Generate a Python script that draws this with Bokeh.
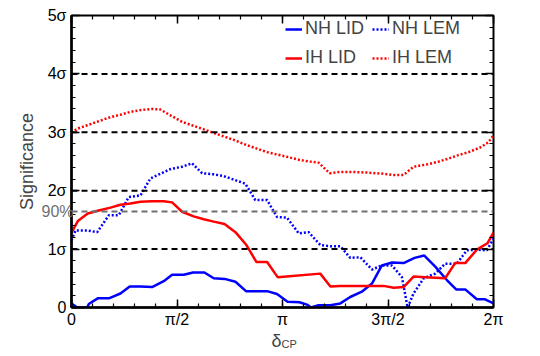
from bokeh.plotting import figure
from bokeh.models import Range1d, LinearAxis, FixedTicker, Span, Label, Legend, LegendItem
from bokeh.embed import file_html
from bokeh.resources import INLINE

# x values are in units of pi
nh_lid_x = [0, 0.027, 0.074, 0.082, 0.126, 0.18, 0.232, 0.276, 0.327, 0.382, 0.437, 0.477, 0.532, 0.576,
            0.63, 0.674, 0.726, 0.777, 0.827, 0.879, 0.927, 0.974, 1.024, 1.08, 1.116, 1.135, 1.171, 1.227,
            1.274, 1.321, 1.376, 1.424, 1.471, 1.519, 1.574, 1.626, 1.672, 1.724, 1.779, 1.823, 1.866, 1.921,
            1.96, 2.0]
nh_lid_y = [0.07, 0.0, 0.0, 0.06, 0.16, 0.16, 0.24, 0.36, 0.36, 0.35, 0.45, 0.56, 0.56, 0.6,
            0.6, 0.5, 0.49, 0.44, 0.28, 0.28, 0.28, 0.23, 0.1, 0.09, 0.05, 0.0, 0.04, 0.04,
            0.07, 0.18, 0.27, 0.41, 0.72, 0.77, 0.76, 0.85, 0.89, 0.7, 0.47, 0.31, 0.31, 0.14,
            0.14, 0.07]

nh_lem_x = [0, 0.019, 0.074, 0.122, 0.177, 0.224, 0.271, 0.327, 0.374, 0.421, 0.469, 0.524, 0.571, 0.619,
            0.674, 0.721, 0.777, 0.824, 0.871, 0.927, 0.974, 1.021, 1.077, 1.124, 1.179, 1.227, 1.274,
            1.321, 1.369, 1.424, 1.471, 1.519, 1.566, 1.593, 1.621, 1.669, 1.724, 1.771, 1.826, 1.874,
            1.921, 1.968, 2.0]
nh_lem_y = [1.15, 1.32, 1.32, 1.29, 1.58, 1.58, 1.89, 1.92, 2.21, 2.29, 2.37, 2.41, 2.47, 2.30,
            2.28, 2.25, 2.18, 2.12, 1.84, 1.84, 1.55, 1.54, 1.27, 1.29, 1.07, 1.05, 1.05,
            0.85, 0.86, 0.65, 0.72, 0.72, 0.52, 0.0, 0.24, 0.50, 0.58, 0.75, 0.75, 0.98,
            0.99, 0.98, 1.18]

ih_lid_x = [0, 0.03, 0.077, 0.129, 0.185, 0.232, 0.279, 0.327, 0.382, 0.437, 0.477, 0.524, 0.579, 0.627,
            0.674, 0.725, 0.777, 0.829, 0.876, 0.927, 0.977, 1.179, 1.227, 1.274, 1.479, 1.527, 1.574,
            1.621, 1.676, 1.724, 1.771, 1.818, 1.866, 1.921, 1.971, 2.0]
ih_lid_y = [1.28, 1.48, 1.61, 1.66, 1.71, 1.76, 1.78, 1.81, 1.82, 1.82, 1.80, 1.64, 1.56, 1.51,
            1.47, 1.43, 1.29, 1.07, 0.78, 0.78, 0.52, 0.58, 0.36, 0.37, 0.37, 0.34, 0.35,
            0.53, 0.52, 0.51, 0.50, 0.76, 0.76, 0.99, 1.10, 1.28]

ih_lem_x = [0, 0.027, 0.074, 0.129, 0.185, 0.232, 0.279, 0.327, 0.382, 0.421, 0.469, 0.524, 0.571, 0.627,
            0.674, 0.721, 0.777, 0.824, 0.879, 0.927, 0.974, 1.021, 1.077, 1.124, 1.171, 1.223, 1.274,
            1.337, 1.4, 1.479, 1.527, 1.574, 1.621, 1.684, 1.732, 1.787, 1.834, 1.882, 1.937, 1.976, 2.0]
ih_lem_y = [2.99, 3.06, 3.12, 3.19, 3.26, 3.30, 3.35, 3.38, 3.40, 3.39, 3.29, 3.18, 3.12, 3.05,
            2.99, 2.93, 2.86, 2.79, 2.72, 2.66, 2.62, 2.58, 2.53, 2.50, 2.48, 2.30, 2.32,
            2.32, 2.31, 2.29, 2.27, 2.27, 2.41, 2.45, 2.49, 2.55, 2.61, 2.66, 2.74, 2.83, 2.95]

x_ticks = [0, 0.5, 1, 1.5, 2]
x_tick_labels = ["0", "π/2", "π", "3π/2", "2π"]
y_ticks = [0, 1, 2, 3, 4, 5]
y_tick_labels = ["0", "1σ", "2σ", "3σ", "4σ", "5σ"]
sigma_lines = [1, 2, 3, 4]
cl90_level = 1.645
cl90_text = "90%"

FONT = "Liberation Sans"

p = figure(width=540, height=356, x_range=Range1d(0, 2), y_range=Range1d(0, 5),
           output_backend="svg", toolbar_location=None,
           min_border_left=71, min_border_right=47, min_border_top=15, min_border_bottom=49)
p.grid.visible = False
p.outline_line_color = "black"
p.outline_line_width = 2
p.outline_line_alpha = 1
p.background_fill_color = "white"
p.border_fill_color = "white"

x_minor = [i * 0.1 for i in range(21)]
y_minor = [i * 0.2 for i in range(26)]
xt = FixedTicker(ticks=x_ticks, minor_ticks=x_minor)
yt = FixedTicker(ticks=y_ticks, minor_ticks=y_minor)


def style_axis(ax, ticker, labels=None, show_labels=True, line=True):
    ax.ticker = ticker
    ax.major_tick_in = 8
    ax.major_tick_out = 0
    ax.minor_tick_in = 4
    ax.minor_tick_out = 0
    ax.major_tick_line_color = "black"
    ax.minor_tick_line_color = "black"
    ax.major_tick_line_width = 1.5
    ax.minor_tick_line_width = 1.2
    if line:
        ax.axis_line_width = 2.5
        ax.axis_line_color = "black"
    else:
        ax.axis_line_color = None
    if show_labels:
        ax.major_label_overrides = labels
        ax.major_label_text_font = FONT
        ax.major_label_text_font_size = "16px"
        ax.major_label_text_color = "black"
    else:
        ax.major_label_overrides = {t: "" for t in ticker.ticks}
        ax.major_label_text_font_size = "1px"
        ax.major_label_standoff = 0


style_axis(p.xaxis[0], xt, dict(zip(x_ticks, x_tick_labels)))
p.xaxis[0].major_label_standoff = 3
style_axis(p.yaxis[0], yt, dict(zip(y_ticks, y_tick_labels)))
p.yaxis[0].major_label_standoff = 5
p.yaxis[0].axis_label = "Significance"
p.yaxis[0].axis_label_text_font = FONT
p.yaxis[0].axis_label_text_font_size = "18px"
p.yaxis[0].axis_label_text_font_style = "normal"
p.yaxis[0].axis_label_standoff = 8

top = LinearAxis()
style_axis(top, xt, show_labels=False, line=False)
p.add_layout(top, "above")
right = LinearAxis()
style_axis(right, yt, show_labels=False, line=False)
p.add_layout(right, "right")

for lv in sigma_lines:
    p.add_layout(Span(location=lv, dimension="width", line_color="black",
                      line_width=2, line_dash="6 4"))
p.add_layout(Span(location=cl90_level, dimension="width", line_color="#707070",
                  line_width=2, line_dash="6 4"))

BLUE = "#0000ff"
RED = "#ff0000"
r1 = p.line(nh_lid_x, nh_lid_y, line_color=BLUE, line_width=2.5)
r2 = p.line(nh_lem_x, nh_lem_y, line_color=BLUE, line_width=2.5, line_dash="2 2")
r3 = p.line(ih_lid_x, ih_lid_y, line_color=RED, line_width=2.5)
r4 = p.line(ih_lem_x, ih_lem_y, line_color=RED, line_width=2.5, line_dash="2 2")

legend = Legend(items=[LegendItem(label="NH LID", renderers=[r1]),
                       LegendItem(label="NH LEM", renderers=[r2]),
                       LegendItem(label="IH LID", renderers=[r3]),
                       LegendItem(label="IH LEM", renderers=[r4])],
                orientation="horizontal", ncols=2, location=(214, 239),
                label_text_font=FONT, label_text_font_size="18px",
                glyph_width=17, glyph_height=20, label_standoff=3, spacing=8,
                padding=0, margin=0, border_line_alpha=0, background_fill_alpha=0)
p.add_layout(legend)

# Free-floating texts outside the frame live in side panels with spare room
# (they are positioned in data units, so the panel only matters for layout size).
p.add_layout(Label(x=0, y=cl90_level, text=cl90_text, text_align="right", text_baseline="middle",
                   x_offset=2, text_color="#707070", text_font=FONT, text_font_size="16px"),
             "right")
p.add_layout(Label(x=1, y=0, text="δ", text_align="left", text_baseline="alphabetic",
                   x_offset=-11, y_offset=-33, text_font=FONT, text_font_size="18px"),
             "right")
p.add_layout(Label(x=1, y=0, text="CP", text_align="left", text_baseline="alphabetic",
                   x_offset=-1, y_offset=-36, text_font=FONT, text_font_size="11px"),
             "above")

open("out.html", "w").write(file_html(p, INLINE))
